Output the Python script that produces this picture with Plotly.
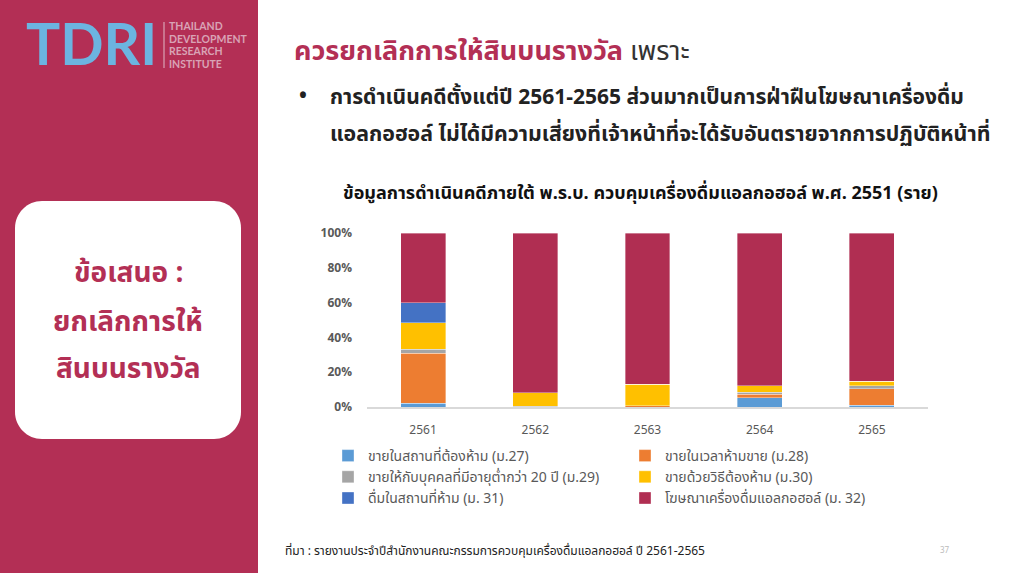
import plotly.graph_objects as go

# ---------------- data ----------------
years = ["2561", "2562", "2563", "2564", "2565"]
series_names = [
    "ขายในสถานที่ต้องห้าม (ม.27)",
    "ขายในเวลาห้ามขาย (ม.28)",
    "ขายให้กับบุคคลที่มีอายุต่ำกว่า 20 ปี (ม.29)",
    "ขายด้วยวิธีต้องห้าม (ม.30)",
    "ดื่มในสถานที่ห้าม (ม. 31)",
    "โฆษณาเครื่องดื่มแอลกอฮอล์ (ม. 32)",
]
s27 = [2.1, 0.0, 0.0, 5.3, 1.1]
s28 = [28.8, 0.0, 0.6, 2.0, 9.5]
s29 = [2.4, 0.3, 0.0, 1.3, 1.7]
s30 = [15.1, 8.0, 12.5, 3.6, 2.5]
s31 = [11.4, 0.0, 0.0, 0.0, 0.0]
s32 = [40.2, 91.7, 86.9, 87.8, 85.2]
series_values = [s27, s28, s29, s30, s31, s32]
colors = ["#5B9BD5", "#ED7D31", "#A5A5A5", "#FFC000", "#4472C4", "#B02E52"]
legend_ids = ["legend", "legend2", "legend", "legend2", "legend", "legend2"]
ytick_vals = [0, 20, 40, 60, 80, 100]
ytick_text = ["0%", "20%", "40%", "60%", "80%", "100%"]

CRIMSON = "#B32F55"
FONT = "Noto Sans Thai, Noto Sans, Loma, Garuda, sans-serif"

# ---------------- pixel helpers ----------------
FW, FH = 1024, 573
L, R, T, B = 367, 928, 233, 407
W, H = R - L, B - T


def X(px):
    return (px - L) / W


def Y(py):
    return (B - py) / H


fig = go.Figure()
for name, vals, col, lg in zip(series_names, series_values, colors, legend_ids):
    fig.add_trace(go.Bar(
        x=years, y=vals, name=name, legend=lg,
        marker=dict(color=col, line=dict(color="rgba(255,255,255,0.6)", width=0.6)),
    ))

shapes = []
# left crimson panel
shapes.append(dict(type="rect", xref="paper", yref="paper",
                   x0=X(0), x1=X(258), y0=Y(FH), y1=Y(0),
                   fillcolor=CRIMSON, line=dict(width=0), layer="below"))


def rrect(x0, y0, x1, y1, r):
    k = 0.5523 * r
    p = []
    p.append(f"M {X(x0 + r)},{Y(y0)}")
    p.append(f"L {X(x1 - r)},{Y(y0)}")
    p.append(f"C {X(x1 - r + k)},{Y(y0)} {X(x1)},{Y(y0 + r - k)} {X(x1)},{Y(y0 + r)}")
    p.append(f"L {X(x1)},{Y(y1 - r)}")
    p.append(f"C {X(x1)},{Y(y1 - r + k)} {X(x1 - r + k)},{Y(y1)} {X(x1 - r)},{Y(y1)}")
    p.append(f"L {X(x0 + r)},{Y(y1)}")
    p.append(f"C {X(x0 + r - k)},{Y(y1)} {X(x0)},{Y(y1 - r + k)} {X(x0)},{Y(y1 - r)}")
    p.append(f"L {X(x0)},{Y(y0 + r)}")
    p.append(f"C {X(x0)},{Y(y0 + r - k)} {X(x0 + r - k)},{Y(y0)} {X(x0 + r)},{Y(y0)} Z")
    return " ".join(p)


shapes.append(dict(type="path", xref="paper", yref="paper",
                   path=rrect(15, 201, 241, 439, 27),
                   fillcolor="white", line=dict(width=0), layer="below"))
# logo divider
shapes.append(dict(type="line", xref="paper", yref="paper",
                   x0=X(164), x1=X(164), y0=Y(22), y1=Y(68),
                   line=dict(color="#D9A3B5", width=1.2)))

ann = []


def text(px, py, s, size, color, xanchor="left", bold=False, family=FONT):
    ann.append(dict(xref="paper", yref="paper", x=X(px), y=Y(py), text=s,
                    showarrow=False, xanchor=xanchor, yanchor="middle",
                    font=dict(size=size, color=color, family=family,
                              weight="bold" if bold else "normal")))


# logo
text(24, 43, "TDRI", 57, "#6CB4E0", bold=True, family="Lato, Roboto, sans-serif")
for i, w in enumerate(["THAILAND", "DEVELOPMENT", "RESEARCH", "INSTITUTE"]):
    text(167, 26 + i * 12.7, w, 10.5, "#D9A3B5", bold=True, family="Lato, Roboto, sans-serif")

# left box text
text(128, 273, "ข้อเสนอ :", 28, CRIMSON, xanchor="center", bold=True)
text(128, 322, "ยกเลิกการให้", 28, CRIMSON, xanchor="center", bold=True)
text(128, 369, "สินบนรางวัล", 28, CRIMSON, xanchor="center", bold=True)

# heading
ann.append(dict(xref="paper", yref="paper", x=X(292), y=Y(52),
                text=f"<b><span style='color:{CRIMSON}'>ควรยกเลิกการให้สินบนรางวัล</span></b> เพราะ",
                showarrow=False, xanchor="left", yanchor="middle",
                font=dict(size=27, color="#333333", family=FONT)))
text(297, 96, "•", 21, "#222222", bold=True)
text(328, 98, "การดำเนินคดีตั้งแต่ปี 2561-2565 ส่วนมากเป็นการฝ่าฝืนโฆษณาเครื่องดื่ม", 21, "#222222", bold=True)
text(328, 134, "แอลกอฮอล์ ไม่ได้มีความเสี่ยงที่เจ้าหน้าที่จะได้รับอันตรายจากการปฏิบัติหน้าที่", 21.3, "#222222", bold=True)

# chart title
text(640, 193, "ข้อมูลการดำเนินคดีภายใต้ พ.ร.บ. ควบคุมเครื่องดื่มแอลกอฮอล์ พ.ศ. 2551 (ราย)", 18, "#111111",
     xanchor="center", bold=True)

# footer
text(283, 551, "ที่มา : รายงานประจำปีสำนักงานคณะกรรมการควบคุมเครื่องดื่มแอลกอฮอล์ ปี 2561-2565", 12, "#222222")
text(945, 551, "37", 8, "#BBBBBB", xanchor="center")

legend_common = dict(orientation="v", yanchor="top", xanchor="left", traceorder="normal",
                     font=dict(size=14, color="#595959", family=FONT),
                     bgcolor="rgba(0,0,0,0)", tracegroupgap=0, itemclick=False)

fig.update_layout(
    width=FW, height=FH,
    margin=dict(l=L, r=FW - R, t=T, b=FH - B, pad=0),
    paper_bgcolor="white", plot_bgcolor="white",
    barmode="stack", bargap=0.6,
    showlegend=True,
    legend=dict(x=X(328), y=Y(440), **legend_common),
    legend2=dict(x=X(625), y=Y(440), **legend_common),
    xaxis=dict(type="category", showgrid=False, zeroline=False,
               showline=True, linecolor="#D9D9D9", linewidth=1.5,
               ticks="", ticklabelstandoff=11,
               tickfont=dict(size=12, color="#595959", family=FONT)),
    yaxis=dict(range=[0, 100], showgrid=False, zeroline=False, showline=False,
               tickvals=ytick_vals, ticktext=ytick_text, ticks="",
               ticklabelstandoff=14,
               tickfont=dict(size=12, color="#595959", family=FONT, weight="bold")),
    shapes=shapes, annotations=ann,
    font=dict(family=FONT),
)

fig.write_html("out.html")
